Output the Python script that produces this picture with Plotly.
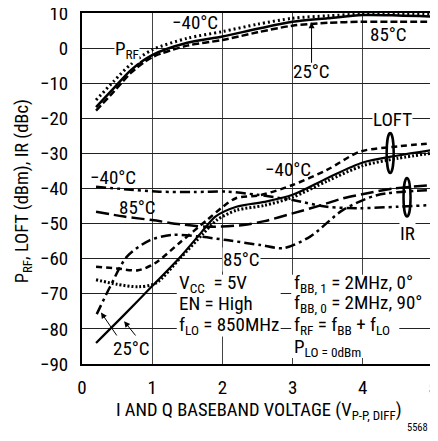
import plotly.graph_objects as go

FONT = "Liberation Sans Narrow, Roboto Condensed, Arial Narrow, Liberation Sans, sans-serif"

# ---- data ----
prf_x = [0.2, 0.45, 0.7, 1.0, 1.5, 2.0, 2.5, 3.0, 3.5, 4.0, 4.5, 5.0]
prf_25 = [-16.8, -11.5, -6.2, -2.0, 1.5, 3.3, 5.5, 7.5, 8.5, 9.4, 9.3, 9.0]
prf_m40 = [-14.8, -9.5, -4.5, -0.5, 2.8, 4.7, 6.8, 8.5, 9.2, 9.7, 9.8, 9.7]
prf_85 = [-17.8, -12.5, -7.0, -2.6, 0.7, 2.3, 4.5, 6.4, 7.2, 7.5, 7.5, 7.5]

loft25_x = [0.2, 0.6, 1.0, 1.4, 1.7, 1.9, 2.2, 2.6, 3.0, 3.5, 4.0, 4.5, 5.0]
loft25_y = [-84, -76, -67.8, -59.5, -52.5, -48, -45.2, -43.8, -41.8, -37.0, -32.6, -30.6, -29.0]

loftdot_x = [0.2, 0.5, 0.8, 1.05, 1.4, 1.72, 1.92, 2.2, 2.6, 3.0, 3.5, 4.0, 4.5, 5.0]
loftdot_y = [-66, -67.3, -68, -67, -59.8, -53, -49, -46.2, -44.8, -42.5, -37.8, -33.5, -31.4, -29.9]

loftdash_x = [0.2, 0.5, 0.8, 1.04, 1.4, 1.78, 2.0, 2.2, 2.54, 3.0, 3.49, 3.96, 4.5, 5.0]
loftdash_y = [-62.3, -62.8, -63.3, -61.3, -55.3, -49, -45.3, -42.7, -41.9, -39, -34.7, -29.5, -28.0, -27.1]

ir85_x = [0.2, 0.6, 1.0, 1.4, 1.8, 2.3, 2.6, 3.0, 3.4, 3.72, 4.1, 4.43, 5.0]
ir85_y = [-46.6, -48, -49, -50.2, -50.9, -50.4, -49.3, -47.1, -44.8, -42.8, -41.2, -40.0, -39.0]

irm40_x = [0.2, 0.6, 1.1, 1.6, 2.06, 2.5, 3.0, 3.49, 3.96, 4.5, 5.0]
irm40_y = [-39.5, -40.2, -40.9, -41.0, -40.9, -41.8, -43.3, -45.2, -45.6, -45.2, -44.7]

ir25_x = [0.21, 0.4, 0.64, 0.97, 1.3, 1.68, 2.06, 2.54, 2.87, 3.25, 3.72, 4.2, 5.0]
ir25_y = [-75.8, -68, -59.4, -54.7, -53.2, -53.7, -54.7, -56.1, -57.0, -53.7, -46.1, -41.9, -40.4]

x_ticks = [0, 1, 2, 3, 4, 5]
y_ticks = [10, 0, -10, -20, -30, -40, -50, -60, -70, -80, -90]
y_ticktext = ["10", "0", "\u221210", "\u221220", "\u221230", "\u221240", "\u221250",
              "\u221260", "\u221270", "\u221280", "\u221290"]

fig = go.Figure()

def add(x, y, dash, width=2.5):
    fig.add_trace(go.Scatter(x=x, y=y, mode="lines",
                             line=dict(color="black", width=width, dash=dash,
                                       shape="spline", smoothing=0.8),
                             hoverinfo="skip", showlegend=False))

add(prf_x, prf_85, "7px,3px")
add(prf_x, prf_m40, "2px,3px", 3)
add(prf_x, prf_25, "solid")

add(loftdash_x, loftdash_y, "6px,4px")
add(loftdot_x, loftdot_y, "2px,2px", 3)
add(loft25_x, loft25_y, "solid", 2.2)

add(ir85_x, ir85_y, "13px,5px")
add(irm40_x, irm40_y, "10px,4px,3px,4px,3px,4px")
add(ir25_x, ir25_y, "10px,4px,3px,4px")

# ellipses
fig.add_shape(type="circle", xref="x", yref="y", x0=4.34, x1=4.44, y0=-35.6, y1=-24.2,
              line=dict(color="black", width=2.5))
fig.add_shape(type="circle", xref="x", yref="y", x0=4.58, x1=4.68, y0=-48, y1=-37,
              line=dict(color="black", width=2.5))

# white panels behind the condition text blocks (they mask the grid)
for (x0, x1, y0, y1) in [(1.35, 2.83, -82.2, -64.6), (2.98, 4.985, -77.0, -64.6),
                         (2.98, 4.52, -88.3, -76.9)]:
    fig.add_shape(type="rect", xref="x", yref="y", x0=x0, x1=x1, y0=y0, y1=y1,
                  fillcolor="white", line=dict(width=0), layer="above")

LS = 19

def label(x, y, text, bg=True, size=LS, xanchor="center", align="center"):
    fig.add_annotation(x=x, y=y, text=text, showarrow=False, xanchor=xanchor, align=align,
                       font=dict(family=FONT, size=size, color="black"),
                       bgcolor="white" if bg else None, borderpad=0)

label(0.64, -0.5, "P<sub>RF</sub>")
label(1.61, 7.2, "\u221240\u00b0C", bg=False)
label(4.36, 3.8, "85\u00b0C", bg=False)
label(3.27, -6.7, "25\u00b0C", bg=False)
label(4.42, -20.3, "LOFT")
label(4.64, -52.7, "IR")
label(0.44, -36.9, "\u221240\u00b0C", bg=False)
label(0.79, -45.3, "85\u00b0C", bg=False)
label(2.93, -34.5, "\u221240\u00b0C", bg=False)
label(2.27, -60.2, "85\u00b0C")
label(0.71, -85.7, "25\u00b0C", bg=False)

label(1.37, -67.0, "V<sub>CC</sub>  = 5V", bg=False, xanchor="left")
label(1.37, -72.7, "EN = High", bg=False, xanchor="left")
label(1.37, -78.9, "f<sub>LO</sub> = 850MHz", bg=False, xanchor="left")
label(3.0, -67.0, "f<sub>BB, 1</sub> = 2MHz, 0\u00b0", bg=False, xanchor="left")
label(3.0, -72.7, "f<sub>BB, 0</sub> = 2MHz, 90\u00b0", bg=False, xanchor="left")
label(3.0, -78.9, "f<sub>RF</sub> = f<sub>BB</sub> + f<sub>LO</sub>", bg=False, xanchor="left")
label(3.0, -85.2, "P<sub>LO = 0dBm</sub>", bg=False, xanchor="left")

def arrow(xh, yh, xt, yt):
    fig.add_annotation(x=xh, y=yh, ax=xt, ay=yt, xref="x", yref="y", axref="x", ayref="y",
                       text="", showarrow=True, arrowhead=2, arrowsize=1.2, arrowwidth=1,
                       arrowcolor="black")

arrow(3.27, 7.4, 3.27, -4.6)
arrow(0.27, -75.3, 0.51, -82.3)
arrow(0.6, -77.8, 0.78, -82.3)

# axis titles as paper annotations
fig.add_annotation(xref="paper", yref="paper", x=0.504, y=-0.134, xanchor="center", yanchor="middle",
                   text="I AND Q BASEBAND VOLTAGE (V<sub>P-P, DIFF</sub>)", showarrow=False,
                   font=dict(family=FONT, size=18.5, color="black"))
fig.add_annotation(xref="paper", yref="paper", x=-0.167, y=0.493, xanchor="center", yanchor="middle",
                   text="P<sub>RF</sub>, LOFT (dBm), IR (dBc)", showarrow=False, textangle=-90,
                   font=dict(family=FONT, size=18.5, color="black"))

fig.add_annotation(xref="paper", yref="paper", x=0.92, y=-0.182, xanchor="left", yanchor="middle",
                   text="5568 F15", showarrow=False,
                   font=dict(family=FONT, size=10.5, color="black"))

# the page body has an 8px margin; keep the page inside the window
fig.update_layout(
    width=430, height=425,
    margin=dict(l=74, r=5, t=5, b=69, autoexpand=False),
    plot_bgcolor="white", paper_bgcolor="white",
    font=dict(family=FONT, size=18, color="black"),
    showlegend=False,
)
fig.update_xaxes(range=[0, 5], tickvals=x_ticks, showgrid=True, gridcolor="#444444", gridwidth=1.2,
                 showline=True, linecolor="black", linewidth=2, mirror=True, zeroline=False,
                 ticks="", ticklabelstandoff=5, tickfont=dict(size=19), automargin=False,
                 ticklabeloverflow="allow")
fig.update_yaxes(range=[-90, 10], tickvals=y_ticks, ticktext=y_ticktext, showgrid=True,
                 gridcolor="#222222", gridwidth=1.2,
                 showline=True, linecolor="black", linewidth=2, mirror=True, zeroline=False,
                 ticks="", ticklabelstandoff=8, tickfont=dict(size=19), automargin=False,
                 ticklabeloverflow="allow")

fig.write_html("out.html")
